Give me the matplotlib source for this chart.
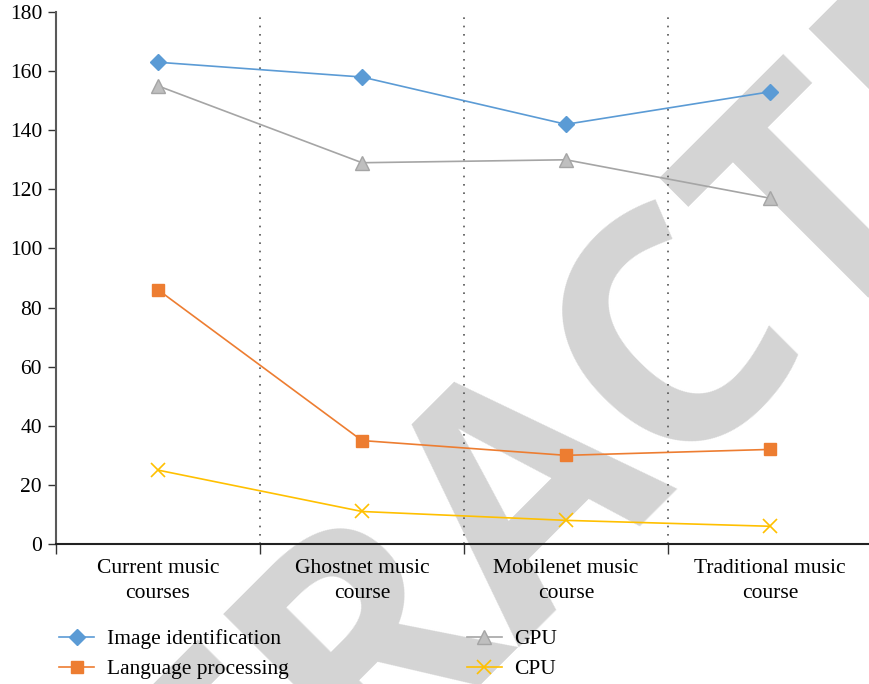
import matplotlib
matplotlib.use("Agg")
import matplotlib.pyplot as plt

# chart data
categories = ["Current music\ncourses", "Ghostnet music\ncourse",
              "Mobilenet music\ncourse", "Traditional music\ncourse"]
image_identification = [163, 158, 142, 153]
language_processing = [86, 35, 30, 32]
gpu = [155, 129, 130, 117]
cpu = [25, 11, 8, 6]
y_ticks = [0, 20, 40, 60, 80, 100, 120, 140, 160, 180]

plt.rcParams["font.family"] = ["Liberation Serif", "DejaVu Serif"]
FS = 15.5

fig = plt.figure(figsize=(8.69, 6.84), dpi=100)
fig.patch.set_facecolor("white")

# retraction watermark behind everything
fig.text(0.6847, 0.2076, "RETRACTED", rotation=45, rotation_mode="anchor",
         ha="center", va="baseline", fontsize=234, fontweight="bold",
         family="Open Sans", color="#d4d4d4", zorder=-1)

ax = fig.add_axes([56 / 869, 1 - 544 / 684, 1 - 56 / 869, (544 - 12) / 684])
ax.set_facecolor("none")

x = list(range(len(categories)))
ax.plot(x, image_identification, color="#5B9BD5", lw=1.2, marker="D", ms=8,
        label="Image identification")
ax.plot(x, language_processing, color="#ED7D31", lw=1.2, marker="s", ms=9,
        label="Language processing")
ax.plot(x, gpu, color="#A5A5A5", lw=1.2, marker="^", ms=10,
        markeredgecolor="#A5A5A5", markerfacecolor="#BFBFBF", label="GPU")
ax.plot(x, cpu, color="#FFC000", lw=1.2, marker="x", ms=10, mew=1.2,
        label="CPU")

ax.set_xlim(-0.5, 3.5 - 3 / 204)
ax.set_ylim(0, 180)
ax.set_yticks(y_ticks)
ax.tick_params(axis="y", length=6, width=1, color="#333333", labelsize=FS,
               pad=4)

# category boundaries
for b in [0.5, 1.5, 2.5]:
    ax.axvline(b, color="#555555", lw=1.2, ls=(0, (1, 4)), zorder=0)
ax.set_xticks([-0.5, 0.5, 1.5, 2.5])
ax.set_xticklabels([])
ax.set_xticks(x, minor=True)
ax.set_xticklabels(categories, minor=True, fontsize=FS, linespacing=1.4)
ax.tick_params(axis="x", which="major", length=7, width=1, color="#333333",
               direction="out")
ax.tick_params(axis="x", which="minor", length=0, pad=11)

for s in ["top", "right"]:
    ax.spines[s].set_visible(False)
ax.spines["left"].set_color("#595959")
ax.spines["left"].set_linewidth(1.5)
ax.spines["bottom"].set_color("#222222")
ax.spines["bottom"].set_linewidth(1.5)

fig.legend(loc="upper left", bbox_to_anchor=(40 / 869, 1 - 610 / 684),
           ncol=2, frameon=False, fontsize=FS, handlelength=1.6,
           handletextpad=0.6, columnspacing=8.3, labelspacing=0.45)

fig.savefig("out.png", dpi=100)
